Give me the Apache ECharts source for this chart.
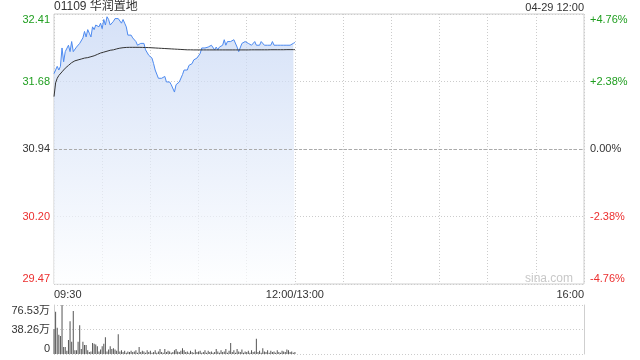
<!DOCTYPE html>
<html><head><meta charset="utf-8">
<script src="https://cdn.jsdelivr.net/npm/echarts@6/dist/echarts.min.js"></script>
<style>html,body{margin:0;padding:0;background:#fff}#c{width:640px;height:360px}</style>
</head><body><div id="c"></div>
<script>
const stockTitle = '01109 华润置地';
const timeStamp = '04-29 12:00';
const watermark = 'sina.com';
const prevClose = 30.94;
const priceTicks = ['29.47','30.20','30.94','31.68','32.41'];
const pctTicks = ['-4.76%','-2.38%','0.00%','+2.38%','+4.76%'];
const volTicks = ['0','38.26万','76.53万'];
const xTickMinutes = [0,150,330];
const xTickLabels = ['09:30','12:00/13:00','16:00'];
const totalMinutes = 330;

// minute close price 09:30 - 12:00
const price = [
31.76,31.78,31.84,31.80,31.84,32.04,31.89,32.00,31.98,32.07,
32.00,32.11,32.00,31.98,32.05,32.04,32.09,32.09,32.15,32.22,
32.16,32.24,32.20,32.16,32.27,32.24,32.29,32.31,32.27,32.31,
32.25,32.35,32.29,32.38,32.35,32.29,32.31,32.33,32.36,32.38,
32.36,32.35,32.31,32.35,32.31,32.27,32.18,32.16,32.18,32.15,
32.16,32.11,32.07,32.05,32.09,32.07,32.09,32.02,32.02,31.96,
31.96,31.93,31.87,31.80,31.82,31.71,31.69,31.71,31.69,31.73,
31.67,31.69,31.67,31.64,31.62,31.56,31.64,31.62,31.67,31.69,
31.75,31.80,31.82,31.80,31.85,31.84,31.87,31.91,31.89,31.93,
31.95,31.98,32.04,32.02,32.04,32.02,32.05,32.04,32.07,32.05,
32.02,32.05,32.02,32.05,32.04,32.07,32.13,32.07,32.11,32.09,
32.11,32.13,32.13,32.11,32.05,32.00,32.02,32.09,32.11,32.11,
32.11,32.09,32.11,32.07,32.09,32.11,32.07,32.09,32.07,32.11,
32.09,32.07,32.09,32.07,32.09,32.07,32.11,32.07,32.07,32.07,
32.09,32.07,32.07,32.07,32.05,32.07,32.09,32.07,32.07,32.09,
32.10
];
// average price line
const avgPrice = [
31.51,31.66,31.71,31.74,31.76,31.78,31.80,31.82,31.84,31.85,
31.87,31.88,31.89,31.90,31.905,31.91,31.915,31.92,31.925,31.93,
31.93,31.935,31.94,31.945,31.95,31.955,31.965,31.97,31.98,31.985,
31.99,31.995,32.00,32.005,32.01,32.015,32.02,32.02,32.025,32.03,
32.035,32.038,32.04,32.043,32.045,32.046,32.047,32.047,32.047,32.047,
32.047,32.047,32.047,32.047,32.047,32.046,32.046,32.045,32.045,32.044,
32.043,32.042,32.041,32.04,32.039,32.038,32.037,32.036,32.035,32.034,
32.033,32.032,32.031,32.03,32.029,32.028,32.027,32.026,32.025,32.024,
32.023,32.022,32.021,32.02,32.02,32.02,32.019,32.019,32.019,32.019,
32.019,32.019,32.019,32.019,32.019,32.019,32.019,32.019,32.019,32.019,
32.019,32.019,32.019,32.019,32.019,32.019,32.019,32.019,32.019,32.019,
32.019,32.019,32.019,32.019,32.019,32.019,32.019,32.019,32.019,32.019,
32.019,32.019,32.02,32.02,32.02,32.02,32.02,32.02,32.02,32.02,
32.02,32.02,32.02,32.02,32.02,32.021,32.021,32.021,32.021,32.021,
32.021,32.021,32.021,32.021,32.022,32.022,32.022,32.022,32.022,32.022,
32.022
];
// volume, 万
const volume = [
39,66,41,30,28,76.53,11,11,5,22,
51,19,67,6,6,19,45,8,19,14,
14,6,3,4,17,16,15,12,4,7,
12,16,26,4,7,12,8,9,7,5,
31,4,6,3,5,2,4,3,5,3,
4,6,2,11,3,5,4,2,6,3,
5,2,3,6,2,4,8,3,2,8,
3,5,4,2,3,6,8,4,3,5,
9,6,3,4,2,5,3,2,7,3,
4,5,2,3,6,2,5,3,4,2,
3,8,4,2,6,3,4,8,2,5,
17,3,6,2,8,4,3,7,2,4,
3,5,2,6,3,4,24,3,5,2,
9,4,3,6,2,5,3,4,2,6,
3,2,5,4,3,7,6,3,4,2,
3
];

const pMin = parseFloat(priceTicks[0]);
const pMax = parseFloat(priceTicks[priceTicks.length-1]);
const pInt = (pMax - pMin) / (priceTicks.length - 1);
const vMax = 76.53;
const vInt = vMax / (volTicks.length - 1);
const FONT = '"Liberation Sans", Arial, "Noto Sans CJK SC", sans-serif';
const GREEN = '#1f9e1f', RED = '#ec2f2f', DARK = '#333';

function pIdx(v){ return Math.max(0, Math.min(priceTicks.length-1, Math.round((v - pMin)/pInt))); }
function cls(i){ return i < 2 ? 'r' : (i === 2 ? 'n' : 'g'); }
const rich = {
  r:{color:RED,fontSize:11,fontFamily:FONT},
  n:{color:DARK,fontSize:11,fontFamily:FONT},
  g:{color:GREEN,fontSize:11,fontFamily:FONT}
};

const chart = echarts.init(document.getElementById('c'), null, {renderer:'canvas'});
chart.setOption({
  animation:false,
  backgroundColor:'#fff',
  textStyle:{fontFamily:FONT},
  title:[
    {text:stockTitle,left:54,top:1,padding:0,textStyle:{fontSize:12,fontWeight:'normal',color:'#333',fontFamily:FONT}},
    {text:timeStamp,right:56,top:2,padding:0,textStyle:{fontSize:11,fontWeight:'normal',color:'#333',fontFamily:FONT}}
  ],
  graphic:[
    {type:'text',right:67,top:273,silent:true,style:{text:watermark,fill:'#c8c8c8',font:'12px '+FONT}}
  ],
  grid:[
    {left:54,right:56,top:14,height:270,show:true,borderColor:'#cfcfcf',borderWidth:1,outerBoundsMode:'none',containLabel:false},
    {left:54,right:56,top:305,height:49,outerBoundsMode:'none',containLabel:false}
  ],
  xAxis:[
    {type:'value',gridIndex:0,min:0,max:totalMinutes,interval:30,
     axisLine:{show:false},axisTick:{show:false},
     splitLine:{show:true,lineStyle:{color:'#cccccc',type:[1,2],width:1}},
     axisLabel:{show:true,margin:5,fontSize:11,color:'#333',fontFamily:FONT,
       showMinLabel:true,showMaxLabel:true,hideOverlap:false,
       alignMinLabel:'left',alignMaxLabel:'right',
       formatter:function(v){ const k = xTickMinutes.indexOf(Math.round(v)); return k >= 0 ? xTickLabels[k] : ''; }}},
    {type:'value',gridIndex:1,min:0,max:totalMinutes,interval:30,
     axisLine:{show:false},axisTick:{show:false},splitLine:{show:false},axisLabel:{show:false}}
  ],
  yAxis:[
    {type:'value',gridIndex:0,position:'left',min:pMin,max:pMax,interval:pInt,
     axisLine:{show:false},axisTick:{show:false},
     splitLine:{show:true,lineStyle:{color:'#cccccc',type:[1,2],width:1}},
     axisLabel:{margin:4,fontSize:11,showMinLabel:true,showMaxLabel:true,
       verticalAlignMinLabel:'bottom',verticalAlignMaxLabel:'top',
       formatter:function(v){ const i = pIdx(v); return '{'+cls(i)+'|'+priceTicks[i]+'}'; },rich:rich}},
    {type:'value',gridIndex:0,position:'right',min:pMin,max:pMax,interval:pInt,
     axisLine:{show:false},axisTick:{show:false},splitLine:{show:false},
     axisLabel:{margin:6,fontSize:11,showMinLabel:true,showMaxLabel:true,
       verticalAlignMinLabel:'bottom',verticalAlignMaxLabel:'top',
       formatter:function(v){ const i = pIdx(v); return '{'+cls(i)+'|'+pctTicks[i]+'}'; },rich:rich}},
    {type:'value',gridIndex:1,position:'left',min:0,max:vMax,interval:vInt,
     axisLine:{show:true,lineStyle:{color:'#cfcfcf'}},axisTick:{show:false},
     splitLine:{show:true,lineStyle:{color:'#cccccc',type:[1,2],width:1}},
     axisLabel:{margin:4,fontSize:11,color:'#333',fontFamily:FONT,showMinLabel:true,showMaxLabel:true,
       verticalAlignMinLabel:'bottom',verticalAlignMaxLabel:'top',
       formatter:function(v){ const i = Math.max(0,Math.min(volTicks.length-1,Math.round(v/vInt))); return volTicks[i]; }}},
    {type:'value',gridIndex:1,position:'right',min:0,max:vMax,interval:vInt,
     axisLine:{show:true,lineStyle:{color:'#cfcfcf'}},axisTick:{show:false},splitLine:{show:false},axisLabel:{show:false}}
  ],
  series:[
    {type:'line',name:'price',xAxisIndex:0,yAxisIndex:0,
     data:price.map(function(p,i){return [i,p];}),
     showSymbol:false,symbol:'none',smooth:false,
     lineStyle:{color:'#4d8af0',width:1},
     areaStyle:{origin:'start',color:new echarts.graphic.LinearGradient(0,0,0,1,[
       {offset:0,color:'#c4d5f4'},{offset:1,color:'#fdfeff'}])},
     markLine:{silent:true,symbol:'none',label:{show:false},
       lineStyle:{color:'#aaaaaa',type:[3,2],width:1},
       data:[{yAxis:prevClose}]},
     z:2},
    {type:'line',name:'avg',xAxisIndex:0,yAxisIndex:0,
     data:avgPrice.map(function(p,i){return [i,p];}),
     showSymbol:false,symbol:'none',smooth:false,
     lineStyle:{color:'#333',width:1},z:3},
    {type:'bar',name:'volume',xAxisIndex:1,yAxisIndex:2,
     data:volume.map(function(v,i){return [i,v];}),
     barWidth:1,itemStyle:{color:'#555'}}
  ]
});
</script>
</body></html>
